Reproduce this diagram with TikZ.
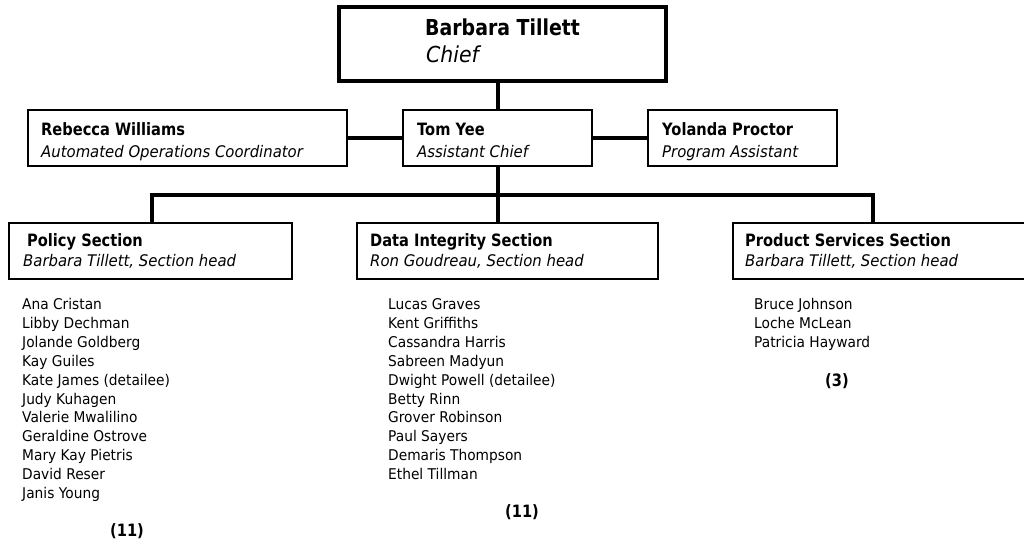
\documentclass[tikz,border=0pt]{standalone}
\usepackage{fontspec}
\setmainfont{DejaVu Sans}[FakeStretch=0.93]
\newfontfamily\hdfont{DejaVu Sans}[FakeStretch=0.86]
\begin{document}
\begin{tikzpicture}[x=1pt,y=-1pt,
  thinbox/.style={draw=black,line width=1.4pt,rectangle,inner sep=0pt},
  chiefbox/.style={draw=black,line width=4pt,rectangle,inner sep=0pt},
  conn/.style={draw=black,line width=4pt},
  hd/.style={font=\hdfont\bfseries\fontsize{17}{20}\selectfont,anchor=base west,inner sep=0pt},
  sub/.style={font=\itshape\fontsize{16}{19}\selectfont,anchor=base west,inner sep=0pt},
  bighd/.style={font=\hdfont\bfseries\fontsize{22}{26}\selectfont,anchor=base west,inner sep=0pt},
  bigsub/.style={font=\itshape\fontsize{22}{26}\selectfont,anchor=base west,inner sep=0pt},
  member/.style={font=\fontsize{14.8}{18}\selectfont,anchor=base west,inner sep=0pt},
  count/.style={font=\hdfont\bfseries\fontsize{17}{20}\selectfont,anchor=base,inner sep=0pt}]
\useasboundingbox[fill=white] (0,0) rectangle (1024,543);

% boxes
\node[chiefbox,minimum width=327pt,minimum height=74pt] (chief) at (502.5,44) {};
\node[thinbox,minimum width=319pt,minimum height=56pt] (reb) at (187.5,138) {};
\node[thinbox,minimum width=189pt,minimum height=56pt] (tom) at (497.5,138) {};
\node[thinbox,minimum width=189pt,minimum height=56pt] (yol) at (742.5,138) {};
\node[thinbox,minimum width=283pt,minimum height=56pt] (pol) at (150.5,251) {};
\node[thinbox,minimum width=301pt,minimum height=56pt] (dat) at (507.5,251) {};
\node[thinbox,minimum width=296pt,minimum height=56pt] (prd) at (881,251) {};

% connector coordinates
\coordinate (tx) at (498,0);
\coordinate (bl) at (152,195);
\coordinate (br) at (873,195);

% connectors
\draw[conn] (chief.south -| tx) -- (tom.north -| tx);
\draw[conn] (reb.east) -- (tom.west);
\draw[conn] (tom.east) -- (yol.west);
\draw[conn] (tom.south -| tx) -- (dat.north -| tx);
\draw[conn] (pol.north -| bl) -- (bl) -- (br) -- (prd.north -| br);

% texts
\node[bighd] (t1) at (425,36) {Barbara Tillett};
\node[bigsub] (t2) at (426,63) {Chief};
\node[hd] (t3) at (41,135) {Rebecca Williams};
\node[sub] (t4) at (41,157) {Automated Operations Coordinator};
\node[hd] (t5) at (417,135) {Tom Yee};
\node[sub] (t6) at (417,157) {Assistant Chief};
\node[hd] (t7) at (662,135) {Yolanda Proctor};
\node[sub] (t8) at (662,157) {Program Assistant};
\node[hd] (t9) at (27,246) {Policy Section};
\node[sub] (t10) at (23,266) {Barbara Tillett, Section head};
\node[hd] (t11) at (370,246) {Data Integrity Section};
\node[sub] (t12) at (370,266) {Ron Goudreau, Section head};
\node[hd] (t13) at (745,246) {Product Services Section};
\node[sub] (t14) at (745,266) {Barbara Tillett, Section head};

% member lists
\foreach \n [count=\i from 0] in {Ana Cristan,Libby Dechman,Jolande Goldberg,Kay Guiles,Kate James (detailee),Judy Kuhagen,Valerie Mwalilino,Geraldine Ostrove,Mary Kay Pietris,David Reser,Janis Young}
  \node[member] (pm\i) at (22,309.5+18.9*\i) {\n};
\foreach \n [count=\i from 0] in {Lucas Graves,Kent Griffiths,Cassandra Harris,Sabreen Madyun,Dwight Powell (detailee),Betty Rinn,Grover Robinson,Paul Sayers,Demaris Thompson,Ethel Tillman}
  \node[member] (dm\i) at (388,309.5+18.9*\i) {\n};
\foreach \n [count=\i from 0] in {Bruce Johnson,Loche McLean,Patricia Hayward}
  \node[member] (qm\i) at (754,309.5+18.9*\i) {\n};

\node[count] (c1) at (127,536) {(11)};
\node[count] (c2) at (522,517) {(11)};
\node[count] (c3) at (837,386) {(3)};
\end{tikzpicture}
\end{document}
